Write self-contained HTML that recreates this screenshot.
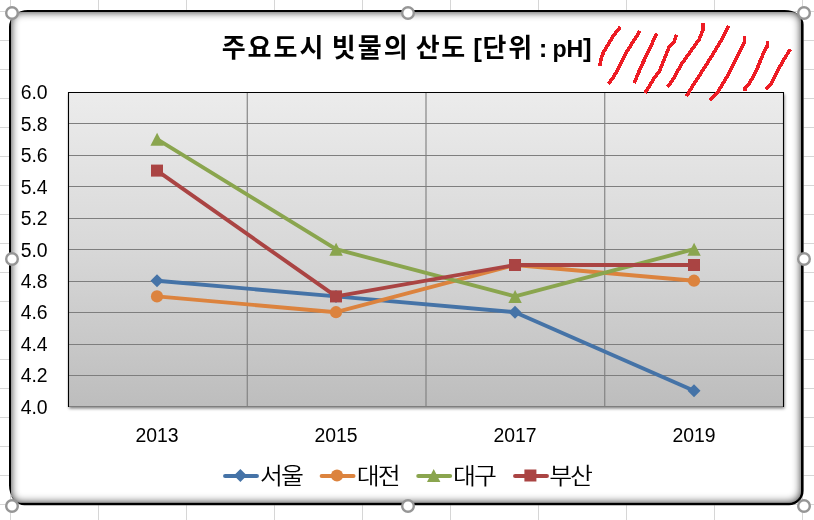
<!DOCTYPE html>
<html lang="ko"><head><meta charset="utf-8"><title>주요도시 빗물의 산도</title>
<style>
html,body{margin:0;padding:0;background:#fff;}
body{width:814px;height:520px;overflow:hidden;position:relative;font-family:"Liberation Sans","Noto Sans CJK KR",sans-serif;}
svg{position:absolute;left:0;top:0;display:block;}
.ax{font-family:"Liberation Sans","Noto Sans CJK KR",sans-serif;font-size:19.4px;fill:#000;}
.lg{font-family:"Liberation Sans","Noto Sans CJK KR",sans-serif;font-size:22.4px;letter-spacing:-1.8px;font-weight:350;fill:#000;}
.ti{font-family:"Liberation Sans","Noto Sans CJK KR",sans-serif;font-size:26px;font-weight:bold;fill:#000;}
</style></head><body>
<svg width="814" height="520" viewBox="0 0 814 520">
<defs>
<linearGradient id="pg" x1="0" y1="0" x2="0" y2="1"><stop offset="0" stop-color="#ececec"/><stop offset="0.47" stop-color="#d9d9d9"/><stop offset="1" stop-color="#bdbdbd"/></linearGradient>
<filter id="ish" x="-5%" y="-5%" width="110%" height="110%">
<feGaussianBlur in="SourceAlpha" stdDeviation="3.2" result="b"/>
<feComposite in="SourceAlpha" in2="b" operator="out" result="inv"/>
</filter>
<filter id="blur" x="-5%" y="-5%" width="110%" height="110%"><feGaussianBlur stdDeviation="4.5"/></filter>
<filter id="ds" x="-5%" y="-5%" width="110%" height="110%"><feGaussianBlur stdDeviation="1.8"/></filter>
<clipPath id="cc"><path d="M20.5 12H791.5A9.5 9.5 0 0 1 801 21.5V491.0A11.8 11.8 0 0 1 789.2 502.8H20.5A9.5 9.5 0 0 1 11 493.3V21.5A9.5 9.5 0 0 1 20.5 12Z"/></clipPath>
</defs>
<rect width="814" height="520" fill="#fff"/>

<path d="M10.5 0V520M98.5 0V520M186.5 0V520M274.5 0V520M362.5 0V520M450.5 0V520M538.5 0V520M626.5 0V520M714.5 0V520M802.5 0V520M0 11.5H814M0 40.5H814M0 69.5H814M0 98.5H814M0 127.5H814M0 156.5H814M0 185.5H814M0 214.5H814M0 243.5H814M0 272.5H814M0 301.5H814M0 330.5H814M0 359.5H814M0 388.5H814M0 417.5H814M0 446.5H814M0 475.5H814M0 504.5H814" stroke="#d6d6d6" stroke-width="1" fill="none" shape-rendering="crispEdges"/>
<path d="M28 10H784.6A19 14.5 0 0 1 803.6 24.5V490.7A14.5 14.5 0 0 1 789.1 505.2H24.5A15.5 20 0 0 1 9 485.2V27A19 17 0 0 1 28 10Z" fill="#fff"/>
<g clip-path="url(#cc)"><path d="M-40 -40H854V560H-40ZM20.5 12H791.5A9.5 9.5 0 0 1 801 21.5V491.0A11.8 11.8 0 0 1 789.2 502.8H20.5A9.5 9.5 0 0 1 11 493.3V21.5A9.5 9.5 0 0 1 20.5 12Z" fill="#000" fill-opacity="0.82" fill-rule="evenodd" filter="url(#blur)"/></g>
<path d="M28 10H784.6A19 14.5 0 0 1 803.6 24.5V490.7A14.5 14.5 0 0 1 789.1 505.2H24.5A15.5 20 0 0 1 9 485.2V27A19 17 0 0 1 28 10ZM20.5 12H791.5A9.5 9.5 0 0 1 801 21.5V491.0A11.8 11.8 0 0 1 789.2 502.8H20.5A9.5 9.5 0 0 1 11 493.3V21.5A9.5 9.5 0 0 1 20.5 12Z" fill="#000" fill-rule="evenodd"/>
<rect x="69.0" y="94.5" width="715.5" height="314.0" fill="#000" fill-opacity="0.5" filter="url(#ds)"/>
<rect x="68.0" y="92.0" width="716.0" height="315.0" fill="url(#pg)"/>
<path d="M68.5 123.50H783.5M68.5 155.50H783.5M68.5 186.50H783.5M68.5 218.50H783.5M68.5 249.50H783.5M68.5 281.50H783.5M68.5 312.50H783.5M68.5 344.50H783.5M68.5 375.50H783.5M68.5 406.50H783.5M247.25 92.5V406.5M426.00 92.5V406.5M604.75 92.5V406.5" stroke="#7e7e7e" stroke-width="1.1" fill="none"/>
<path d="M68.5 407.0V92.5H783.5V407.0" fill="none" stroke="#000" stroke-width="1.1"/>
<polyline points="157.0,280.7 336.0,296.4 515.0,312.2 694.0,390.8" fill="none" stroke="#4573a7" stroke-width="3.9" stroke-linejoin="round" stroke-linecap="round"/>
<path d="M157.0 274.2L163.5 280.7L157.0 287.2L150.5 280.7Z" fill="#4573a7"/>
<path d="M336.0 289.9L342.5 296.4L336.0 302.9L329.5 296.4Z" fill="#4573a7"/>
<path d="M515.0 305.7L521.5 312.2L515.0 318.7L508.5 312.2Z" fill="#4573a7"/>
<path d="M694.0 384.3L700.5 390.8L694.0 397.3L687.5 390.8Z" fill="#4573a7"/>
<polyline points="157.0,296.4 336.0,312.2 515.0,265.0 694.0,280.7" fill="none" stroke="#dc833e" stroke-width="3.9" stroke-linejoin="round" stroke-linecap="round"/>
<circle cx="157.0" cy="296.4" r="6.1" fill="#dc833e"/>
<circle cx="336.0" cy="312.2" r="6.1" fill="#dc833e"/>
<circle cx="515.0" cy="265.0" r="6.1" fill="#dc833e"/>
<circle cx="694.0" cy="280.7" r="6.1" fill="#dc833e"/>
<polyline points="157.0,139.2 336.0,249.2 515.0,296.4 694.0,249.2" fill="none" stroke="#8aa54e" stroke-width="3.9" stroke-linejoin="round" stroke-linecap="round"/>
<path d="M157.1 132.8L163.8 145.7L150.4 145.7Z" fill="#8aa54e"/>
<path d="M336.1 242.8L342.8 255.8L329.4 255.8Z" fill="#8aa54e"/>
<path d="M515.1 290.0L521.8 302.9L508.4 302.9Z" fill="#8aa54e"/>
<path d="M694.1 242.8L700.8 255.8L687.4 255.8Z" fill="#8aa54e"/>
<polyline points="157.0,170.6 336.0,296.4 515.0,265.0 694.0,265.0" fill="none" stroke="#aa4443" stroke-width="3.9" stroke-linejoin="round" stroke-linecap="round"/>
<rect x="151.0" y="164.6" width="12" height="12" fill="#aa4443"/>
<rect x="330.0" y="290.4" width="12" height="12" fill="#aa4443"/>
<rect x="509.0" y="259.0" width="12" height="12" fill="#aa4443"/>
<rect x="688.0" y="259.0" width="12" height="12" fill="#aa4443"/>
<text class="ax" x="47.6" y="99.3" text-anchor="end">6.0</text>
<text class="ax" x="47.6" y="130.7" text-anchor="end">5.8</text>
<text class="ax" x="47.6" y="162.2" text-anchor="end">5.6</text>
<text class="ax" x="47.6" y="193.6" text-anchor="end">5.4</text>
<text class="ax" x="47.6" y="225.1" text-anchor="end">5.2</text>
<text class="ax" x="47.6" y="256.5" text-anchor="end">5.0</text>
<text class="ax" x="47.6" y="287.9" text-anchor="end">4.8</text>
<text class="ax" x="47.6" y="319.4" text-anchor="end">4.6</text>
<text class="ax" x="47.6" y="350.8" text-anchor="end">4.4</text>
<text class="ax" x="47.6" y="382.3" text-anchor="end">4.2</text>
<text class="ax" x="47.6" y="413.7" text-anchor="end">4.0</text>
<text class="ax" x="157.0" y="441.8" text-anchor="middle">2013</text>
<text class="ax" x="336.0" y="441.8" text-anchor="middle">2015</text>
<text class="ax" x="515.0" y="441.8" text-anchor="middle">2017</text>
<text class="ax" x="694.0" y="441.8" text-anchor="middle">2019</text>
<path d="M225.1 476H256.9" stroke="#4573a7" stroke-width="4.1" stroke-linecap="round"/>
<path d="M240.4 469.0L246.9 475.5L240.4 482.0L233.9 475.5Z" fill="#4573a7"/>
<text class="lg" transform="translate(260.0,484.3) scale(1.113,1)">서울</text>
<path d="M321.7 476H353.5" stroke="#dc833e" stroke-width="4.1" stroke-linecap="round"/>
<circle cx="337.0" cy="475.5" r="6.1" fill="#dc833e"/>
<text class="lg" transform="translate(356.8,484.3) scale(1.113,1)">대전</text>
<path d="M418.3 476H450.1" stroke="#8aa54e" stroke-width="4.1" stroke-linecap="round"/>
<path d="M433.7 469.1L440.4 482.0L427.0 482.0Z" fill="#8aa54e"/>
<text class="lg" transform="translate(453.0,484.3) scale(1.113,1)">대구</text>
<path d="M515.1 476H546.9" stroke="#aa4443" stroke-width="4.1" stroke-linecap="round"/>
<rect x="524.4" y="469.5" width="12" height="12" fill="#aa4443"/>
<text class="lg" transform="translate(549.2,484.3) scale(1.113,1)">부산</text>
<text class="ti" y="56.5"><tspan x="221.7" letter-spacing="2">주요도시 </tspan><tspan x="331.8" letter-spacing="2">빗물의 </tspan><tspan x="415.7" letter-spacing="1.6">산도 </tspan><tspan x="473.2">[</tspan><tspan x="482.4" letter-spacing="2">단위 </tspan><tspan x="538.8">: </tspan><tspan x="552.4" font-size="23.2">pH</tspan><tspan x="583">]</tspan></text>
<path d="M620.4 26.9L613.5 35.4L603.5 52.3L601.2 58.5L599.6 66.2M639.9 31.1L625.8 53.1L618.1 69.2L613.5 76.9L608.5 83.8M656.5 33.5L648.8 50.8L641.2 66.2L634.2 83.1M676.5 34.6L674.2 41.5L668.8 47.7L659.6 70.8L653.5 79.2L645.0 93.1M702.7 23.3L702.7 30.6L699.1 39.6L695.0 45.3L681.2 64.6L671.9 81.5L667.3 86.5M728.5 25.7L721.1 40.4L711.3 56.8L701.5 72.3L695.0 82.1L686.5 96.2M744.3 35.5L744.3 42.1L735.8 59.2L727.7 75.6L717.9 91.9L709.7 100.0M767.4 41.2L767.4 45.8L763.6 52.7L756.3 70.7L749.7 82.9L744.8 87.8L744.8 91.1M790.3 49.1L783.2 60.8L776.7 72.3L771.0 83.7L765.6 89.4" fill="none" stroke="#ed1c24" stroke-width="3.6" stroke-linejoin="round" stroke-linecap="butt" shape-rendering="crispEdges"/>
<circle cx="12" cy="13" r="5.8" fill="#fff" stroke="#969696" stroke-width="2.4"/>
<circle cx="408" cy="13" r="5.8" fill="#fff" stroke="#969696" stroke-width="2.4"/>
<circle cx="804" cy="13" r="5.8" fill="#fff" stroke="#969696" stroke-width="2.4"/>
<circle cx="12" cy="259" r="5.8" fill="#fff" stroke="#969696" stroke-width="2.4"/>
<circle cx="804" cy="259" r="5.8" fill="#fff" stroke="#969696" stroke-width="2.4"/>
<circle cx="12" cy="506" r="5.8" fill="#fff" stroke="#969696" stroke-width="2.4"/>
<circle cx="408" cy="506" r="5.8" fill="#fff" stroke="#969696" stroke-width="2.4"/>
<circle cx="804" cy="506" r="5.8" fill="#fff" stroke="#969696" stroke-width="2.4"/>
</svg></body></html>
